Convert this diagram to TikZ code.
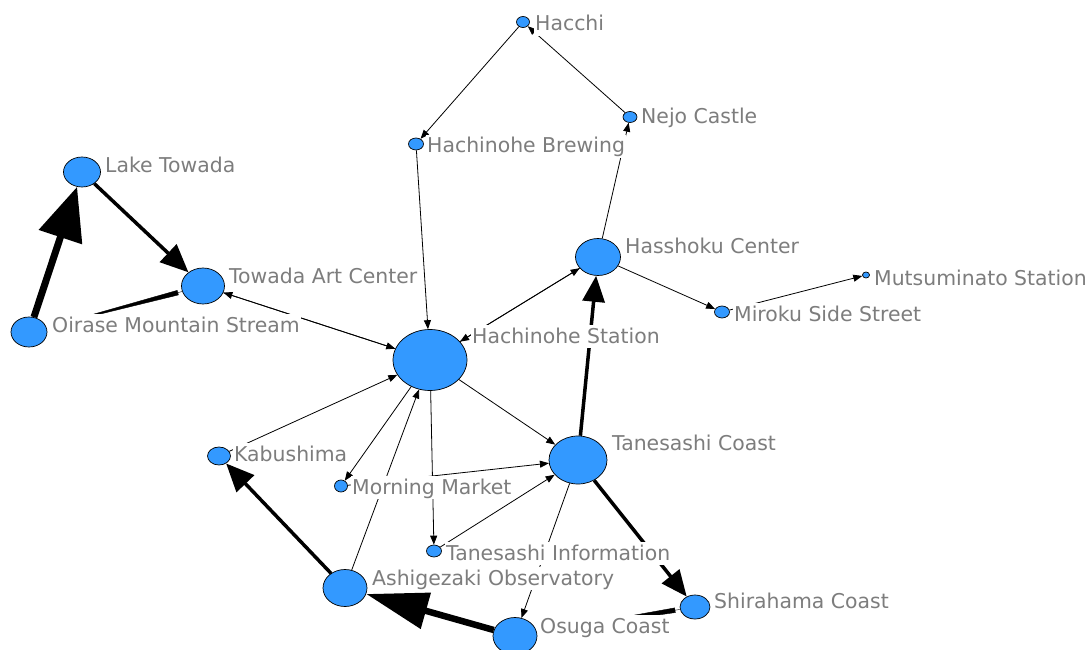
\documentclass[tikz,border=0pt]{standalone}
\usepackage{fontspec}
\setmainfont{DejaVu Sans}
\usepackage{tikz}
\usetikzlibrary{arrows.meta,shapes.geometric}
\definecolor{actorblue}{RGB}{51,153,255}
\definecolor{namegray}{RGB}{125,125,125}
\pgfdeclarelayer{ties}
\pgfsetlayers{ties,main}
\begin{document}
\begin{tikzpicture}[x=1pt,y=-1pt,
  actor/.style={ellipse,draw=black,line width=0.7pt,fill=actorblue,inner sep=0pt},
  actorname/.style={anchor=base west,fill=white,text=namegray,inner sep=1pt,
    text height=17pt,text depth=4pt,font=\fontsize{20.4}{24}\selectfont},
  tie/.style={line width=0.8pt,-{Triangle[length=9pt,width=7pt]}},
  strongtie/.style={line width=3.5pt}]
\useasboundingbox (0,0) rectangle (1090,650);
\node[actor,minimum width=13pt,minimum height=11pt] (hacchi) at (523,22) {};
\node[actor,minimum width=14pt,minimum height=11pt] (nejo) at (630,117) {};
\node[actor,minimum width=15pt,minimum height=12pt] (brewing) at (416,144) {};
\node[actor,minimum width=37pt,minimum height=30pt] (lake) at (82,172) {};
\node[actor,minimum width=43pt,minimum height=36pt] (towada) at (203,286) {};
\node[actor,minimum width=36pt,minimum height=30pt] (oirase) at (29,332) {};
\node[actor,minimum width=74pt,minimum height=61pt] (hstation) at (430,360) {};
\node[actor,minimum width=45pt,minimum height=37pt] (hasshoku) at (598,257) {};
\node[actor,minimum width=15pt,minimum height=12pt] (miroku) at (722,312) {};
\node[actor,minimum width=7pt,minimum height=6pt] (mutsu) at (866,275) {};
\node[actor,minimum width=58pt,minimum height=48pt] (tanesashi) at (578,460) {};
\node[actor,minimum width=23pt,minimum height=18pt] (kabushima) at (219,456) {};
\node[actor,minimum width=13pt,minimum height=12pt] (market) at (341,486) {};
\node[actor,minimum width=15pt,minimum height=12pt] (info) at (434,551) {};
\node[actor,minimum width=44pt,minimum height=37pt] (ashigezaki) at (345,588) {};
\node[actor,minimum width=44pt,minimum height=37pt] (osuga) at (515,636) {};
\node[actor,minimum width=30pt,minimum height=24pt] (shirahama) at (695,607) {};
\node[actorname] (hacchi-name) at (534,31) {Hacchi};
\node[actorname] (nejo-name) at (640,124) {Nejo Castle};
\node[actorname] (brewing-name) at (426,153) {Hachinohe Brewing};
\node[actorname] (lake-name) at (104,172) {Lake Towada};
\node[actorname] (towada-name) at (228,283) {Towada Art Center};
\node[actorname] (oirase-name) at (51,332) {Oirase Mountain Stream};
\node[actorname] (hstation-name) at (471,343) {Hachinohe Station};
\node[actorname] (hasshoku-name) at (624,253) {Hasshoku Center};
\node[actorname] (miroku-name) at (733,321) {Miroku Side Street};
\node[actorname] (mutsu-name) at (873,285) {Mutsuminato Station};
\node[actorname] (tanesashi-name) at (611,450) {Tanesashi Coast};
\node[actorname] (kabushima-name) at (233,461) {Kabushima};
\node[actorname] (market-name) at (351,494) {Morning Market};
\node[actorname] (info-name) at (445,560) {Tanesashi Information};
\node[actorname] (ashigezaki-name) at (371,585) {Ashigezaki Observatory};
\node[actorname] (osuga-name) at (539,633) {Osuga Coast};
\node[actorname] (shirahama-name) at (713,608) {Shirahama Coast};
\begin{pgfonlayer}{ties}
\draw[tie] (hacchi) -- (brewing);
\draw[tie] (nejo) -- (hacchi);
\draw[tie] (hasshoku) -- (nejo);
\draw[tie] (brewing) -- (hstation);
\draw[tie] (hstation) -- (hasshoku);
\draw[tie] (hasshoku) -- (hstation);
\draw[tie] (hasshoku) -- (miroku);
\draw[tie] (miroku) -- (mutsu);
\draw[tie] (hstation) -- (towada);
\draw[tie] (towada) -- (hstation);
\draw[tie] (hstation) -- (tanesashi);
\draw[tie] (hstation) -- (market);
\draw[tie] (hstation) -- (info);
\draw[tie] (kabushima) -- (hstation);
\draw[tie] (ashigezaki) -- (hstation);
\draw[tie] (market) -- (tanesashi);
\draw[tie] (info) -- (tanesashi);
\draw[tie] (tanesashi) -- (osuga);
\draw[strongtie,-{Triangle[length=28pt,width=24pt]}] (lake) -- (towada);
\draw[strongtie,-{Triangle[length=26pt,width=22pt]}] (tanesashi) -- (hasshoku);
\draw[strongtie,-{Triangle[length=26pt,width=22pt]}] (tanesashi) -- (shirahama);
\draw[strongtie,-{Triangle[length=28pt,width=24pt]}] (ashigezaki) -- (kabushima);
\draw[line width=7pt,-{Triangle[length=53pt,width=44pt]}] (oirase) -- (lake);
\draw[line width=6.5pt,-{Triangle[length=62pt,width=36pt]}] (osuga) -- (ashigezaki);
\draw[-{Triangle[length=136pt,width=5pt]}] (towada) -- (oirase);
\draw[-{Triangle[length=140pt,width=5pt]}] (shirahama) -- (osuga);
\end{pgfonlayer}
\end{tikzpicture}
\end{document}
